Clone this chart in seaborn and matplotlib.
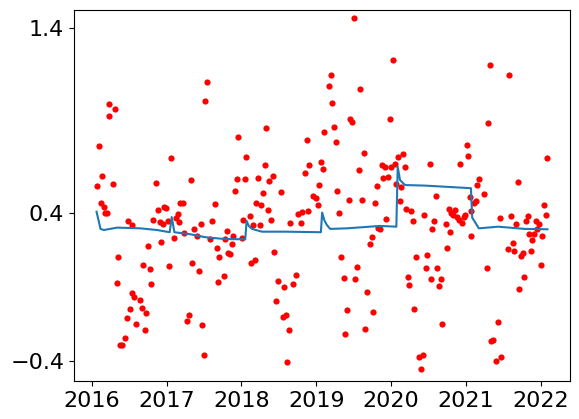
import matplotlib
matplotlib.use("Agg")
import matplotlib.pyplot as plt
import numpy as np
import pandas as pd
import seaborn as sns

# observations (decimal year, value)
obs_year = [
    2016.071, 2016.097, 2016.120, 2016.137, 2016.164, 2016.183, 2016.213, 2016.227, 2016.240, 2016.293,
    2016.311, 2016.337, 2016.360, 2016.383, 2016.409, 2016.444, 2016.471, 2016.484, 2016.511, 2016.537,
    2016.547, 2016.573, 2016.596, 2016.644, 2016.671, 2016.684, 2016.711, 2016.724, 2016.751, 2016.777,
    2016.791, 2016.817, 2016.857, 2016.884, 2016.911, 2016.924, 2016.951, 2016.964, 2016.991, 2017.017,
    2017.031, 2017.057, 2017.097, 2017.133, 2017.151, 2017.164, 2017.187, 2017.217, 2017.231, 2017.271,
    2017.297, 2017.324, 2017.337, 2017.364, 2017.404, 2017.431, 2017.457, 2017.471, 2017.497, 2017.511,
    2017.537, 2017.577, 2017.604, 2017.644, 2017.671, 2017.693, 2017.703, 2017.764, 2017.777, 2017.804,
    2017.817, 2017.844, 2017.871, 2017.889, 2017.911, 2017.937, 2017.951, 2018.004, 2018.017, 2018.044,
    2018.057, 2018.111, 2018.124, 2018.156, 2018.183, 2018.191, 2018.217, 2018.249, 2018.257, 2018.284,
    2018.311, 2018.324, 2018.351, 2018.364, 2018.396, 2018.417, 2018.431, 2018.457, 2018.484, 2018.524,
    2018.551, 2018.564, 2018.591, 2018.604, 2018.631, 2018.657, 2018.697, 2018.737, 2018.764, 2018.804,
    2018.817, 2018.871, 2018.857, 2018.897, 2018.911, 2018.964, 2019.004, 2019.031, 2019.044, 2019.071,
    2019.097, 2019.111, 2019.177, 2019.204, 2019.217, 2019.244, 2019.271, 2019.284, 2019.311, 2019.337,
    2019.377, 2019.391, 2019.417, 2019.444, 2019.453, 2019.484, 2019.511, 2019.524, 2019.551, 2019.577,
    2019.591, 2019.617, 2019.644, 2019.657, 2019.684, 2019.724, 2019.751, 2019.764, 2019.791, 2019.817,
    2019.831, 2019.857, 2019.876, 2019.897, 2019.924, 2019.933, 2019.964, 2019.991, 2020.004, 2020.031,
    2020.057, 2020.071, 2020.097, 2020.124, 2020.137, 2020.164, 2020.191, 2020.204, 2020.231, 2020.244,
    2020.271, 2020.297, 2020.311, 2020.337, 2020.377, 2020.404, 2020.431, 2020.444, 2020.471, 2020.484,
    2020.516, 2020.537, 2020.551, 2020.577, 2020.604, 2020.617, 2020.644, 2020.671, 2020.684, 2020.737,
    2020.751, 2020.777, 2020.791, 2020.804, 2020.831, 2020.857, 2020.884, 2020.911, 2020.924, 2020.951,
    2020.977, 2020.991, 2021.017, 2021.031, 2021.049, 2021.071, 2021.074, 2021.104, 2021.131, 2021.144,
    2021.171, 2021.237, 2021.284, 2021.297, 2021.324, 2021.337, 2021.364, 2021.404, 2021.431, 2021.457,
    2021.471, 2021.564, 2021.577, 2021.604, 2021.631, 2021.644, 2021.671, 2021.697, 2021.711, 2021.737,
    2021.764, 2021.777, 2021.804, 2021.831, 2021.844, 2021.871, 2021.884, 2021.911, 2021.937, 2021.951,
    2021.977, 2022.004, 2022.017, 2022.044, 2022.071, 2022.084,
]
obs_value = [
    0.544, 0.762, 0.454, 0.598, 0.431, 0.402, 0.402, 0.923, 0.988, 0.555,
    0.962, 0.020, 0.162, -0.314, -0.312, -0.277, -0.169, 0.357, -0.119, 0.335,
    -0.034, -0.052, -0.200, -0.072, -0.115, 0.117, -0.234, -0.142, 0.220, 0.096,
    0.015, 0.361, 0.561, 0.415, 0.351, 0.242, 0.339, 0.431, 0.425, 0.355,
    0.112, 0.696, 0.263, 0.371, 0.393, 0.350, 0.452, 0.452, 0.290, -0.185,
    -0.153, 0.577, 0.128, 0.314, 0.277, 0.085, 0.339, -0.207, -0.369, 1.004,
    1.108, 0.258, 0.357, 0.447, 0.211, 0.025, 0.162, 0.058, 0.258, 0.301,
    0.182, 0.177, 0.231, 0.274, 0.517, 0.582, 0.809, 0.265, 0.361, 0.582,
    0.701, 0.382, 0.128, 0.334, 0.144, 0.452, 0.588, 0.334, 0.442, 0.506,
    0.658, 0.858, 0.415, 0.571, 0.361, 0.598, 0.188, -0.077, 0.031, 0.512,
    -0.164, -0.002, -0.153, -0.407, -0.234, 0.344, 0.015, 0.063, 0.393, 0.344,
    0.404, 0.793, 0.615, 0.409, 0.658, 0.490, 0.479, 0.442, 0.550, 0.674,
    0.636, 0.836, 1.085, 1.144, 0.993, 0.865, 0.782, 0.517, 0.398, 0.161,
    0.047, -0.256, -0.126, 0.469, 0.910, 0.890, 1.452, 0.042, 0.106, 0.631,
    1.069, 0.469, 0.723, -0.229, -0.029, 0.231, 0.269, -0.137, 0.452, 0.544,
    0.317, 0.312, 0.658, 0.588, 0.647, 0.366, 0.593, 0.906, 0.647, 1.225,
    0.663, 0.555, 0.701, 0.463, 0.539, 0.717, 0.647, 0.420, 0.052, 0.009,
    0.409, 0.355, -0.121, 0.161, -0.380, -0.445, -0.369, 0.388, 0.101, 0.171,
    0.663, 0.042, 0.312, 0.355, 0.490, 0.101, 0.004, 0.042, -0.202, 0.339,
    0.209, 0.420, 0.296, 0.398, 0.388, 0.415, 0.377, 0.361, 0.663, 0.344,
    0.377, 0.388, 0.766, 0.706, 0.485, 0.409, 0.274, 0.452, 0.463, 0.550,
    0.582, 0.501, 0.101, 0.885, 1.198, -0.294, -0.288, -0.402, -0.191, 0.371,
    -0.380, 0.204, 1.144, 0.382, 0.236, 0.193, 0.339, 0.566, -0.012, 0.166,
    0.182, 0.052, 0.355, 0.382, 0.285, 0.193, 0.252, 0.285, 0.355, 0.312,
    0.339, 0.117, 0.274, 0.442, 0.388, 0.696,
]

# fitted curve (decimal year, value)
fit_year = [
    2016.067, 2016.120, 2016.164, 2016.343, 2016.653, 2016.876, 2017.044, 2017.071, 2017.107, 2017.320,
    2017.520, 2017.787, 2018.053, 2018.071, 2018.100, 2018.143, 2018.276, 2018.587, 2019.063, 2019.080,
    2019.110, 2019.143, 2019.187, 2019.409, 2019.853, 2020.071, 2020.089, 2020.120, 2020.187, 2020.453,
    2021.067, 2021.084, 2021.173, 2021.431, 2021.787, 2022.089,
]
fit_value = [
    0.407, 0.314, 0.308, 0.321, 0.317, 0.308, 0.296, 0.378, 0.296, 0.285,
    0.269, 0.259, 0.258, 0.357, 0.330, 0.314, 0.299, 0.299, 0.296, 0.402,
    0.360, 0.335, 0.314, 0.317, 0.330, 0.326, 0.650, 0.578, 0.551, 0.548,
    0.534, 0.375, 0.317, 0.326, 0.314, 0.312,
]


def to_dates(years):
    base = pd.Timestamp("2016-01-01")
    return base + pd.to_timedelta((np.asarray(years) - 2016) * 365.25, unit="D")


fig = plt.figure(figsize=(5.79, 4.19), dpi=100)
ax = fig.add_axes([74 / 579, 1 - 381 / 419, 496 / 579, 371 / 419])

sns.scatterplot(x=to_dates(obs_year), y=obs_value, color="red", s=20,
                linewidth=0, ax=ax, zorder=2)
sns.lineplot(x=to_dates(fit_year), y=fit_value, color="#1f77b4", lw=1.5,
             ax=ax, zorder=3)

ax.set_ylim(-0.508, 1.497)
ax.set_yticks([-0.4, 0.4, 1.4])
ax.tick_params(labelsize=16)
ax.set_xlabel("")
ax.set_ylabel("")

fig.savefig("out.png", dpi=100)
